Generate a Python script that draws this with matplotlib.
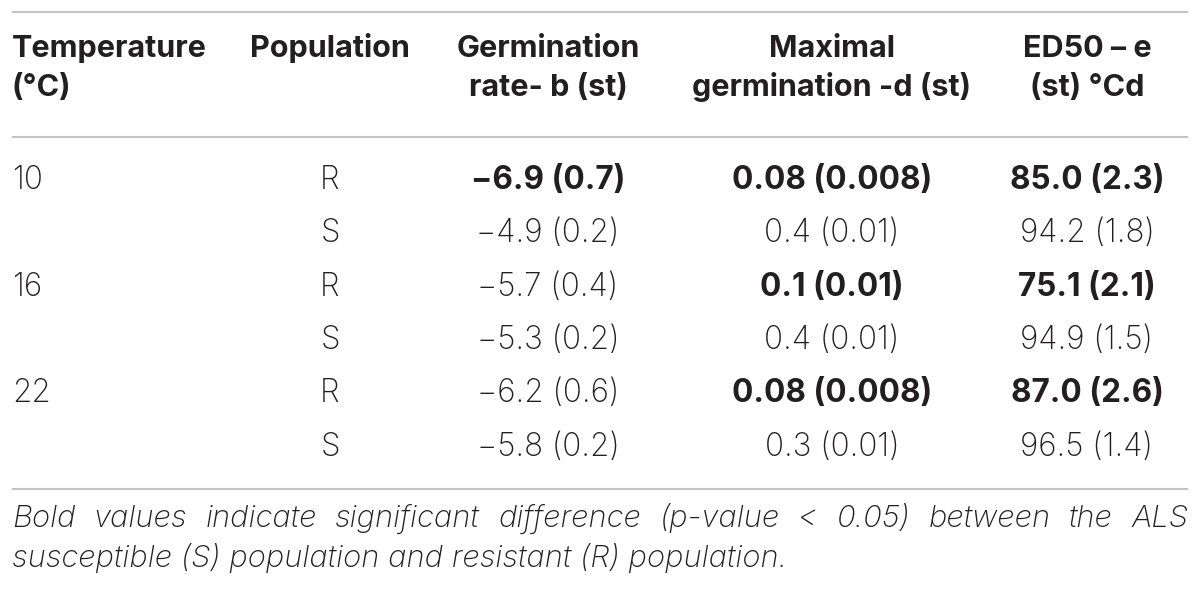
import matplotlib.pyplot as plt

plt.rcParams['font.family'] = ['Inter', 'DejaVu Sans']

# Table contents
headers = [["Temperature", "(°C)"],
           ["Population", ""],
           ["Germination", "rate- b (st)"],
           ["Maximal", "germination -d (st)"],
           ["ED50 – e", "(st) °Cd"]]
temperature = ["10", "", "16", "", "22", ""]
population = ["R", "S", "R", "S", "R", "S"]
germ_rate = ["−6.9 (0.7)", "−4.9 (0.2)", "−5.7 (0.4)", "−5.3 (0.2)", "−6.2 (0.6)", "−5.8 (0.2)"]
max_germ = ["0.08 (0.008)", "0.4 (0.01)", "0.1 (0.01)", "0.4 (0.01)", "0.08 (0.008)", "0.3 (0.01)"]
ed50 = ["85.0 (2.3)", "94.2 (1.8)", "75.1 (2.1)", "94.9 (1.5)", "87.0 (2.6)", "96.5 (1.4)"]
germ_bold = [True, False, False, False, False, False]
max_bold = [True, False, True, False, True, False]
ed50_bold = [True, False, True, False, True, False]
caption = ["Bold values indicate significant difference (p-value < 0.05) between the ALS",
           "susceptible (S) population and resistant (R) population."]

W, H = 1200, 594
fig = plt.figure(figsize=(12, 5.94), dpi=100)
ax = fig.add_axes([0, 0, 1, 1])
ax.set_xlim(0, W)
ax.set_ylim(H, 0)
ax.axis('off')
fig.canvas.draw()
rend = fig.canvas.get_renderer()

txt_col = '#231f20'
line_col = '#c4c4c4'
left, right = 12, 1188


def text_width(t):
    bb = t.get_window_extent(rend)
    return bb.width  # 1 data unit == 1 pixel here


def fit_size(s, target, **kw):
    # font size that makes string s about target pixels wide
    probe = ax.text(0, 0, s, fontsize=20, **kw)
    w = text_width(probe)
    probe.remove()
    return 20 * target / w


fs_head = fit_size("Temperature", 195, fontweight='bold')
fs_body = fit_size("94.2 (1.8)", 135, fontweight='light')
fs_cap = fit_size(caption[1], 775, style='italic', fontweight='light')

# rules
for y in [12, 137, 489]:
    ax.plot([left, right], [y, y], color=line_col, lw=1.5, solid_capstyle='butt')

# header
col_x = [left, 330, 548, 832, 1087]
head_y = [57, 96]
for i, h in enumerate(headers):
    ha = 'left' if i == 0 else 'center'
    for j, t in enumerate(h):
        ax.text(col_x[i], head_y[j], t, ha=ha, va='baseline', fontsize=fs_head,
                fontweight='bold', color=txt_col)

# body rows
row_y = [189, 242.5, 296, 349, 402.5, 456]


def cell(x, y, s, bold=False, ha='center'):
    ax.text(x, y, s, ha=ha, va='baseline', fontsize=fs_body, color=txt_col,
            fontweight='bold' if bold else 'light')


for r in range(len(population)):
    y = row_y[r]
    cell(col_x[0], y, temperature[r], ha='left')
    cell(col_x[1], y, population[r])
    cell(col_x[2], y, germ_rate[r], germ_bold[r])
    cell(col_x[3], y, max_germ[r], max_bold[r])
    cell(col_x[4], y, ed50[r], ed50_bold[r])

# caption, first line justified
words = caption[0].split(' ')
objs = [ax.text(0, 527, w, ha='left', va='baseline', fontsize=fs_cap, style='italic',
                fontweight='light', color=txt_col) for w in words]
widths = [text_width(o) for o in objs]
gap = (right - left - sum(widths)) / (len(words) - 1)
x = left
for o, w in zip(objs, widths):
    o.set_x(x)
    x += w + gap
ax.text(left, 567, caption[1], ha='left', va='baseline', fontsize=fs_cap, style='italic',
        fontweight='light', color=txt_col)

fig.savefig('out.png', dpi=100, facecolor='white')
